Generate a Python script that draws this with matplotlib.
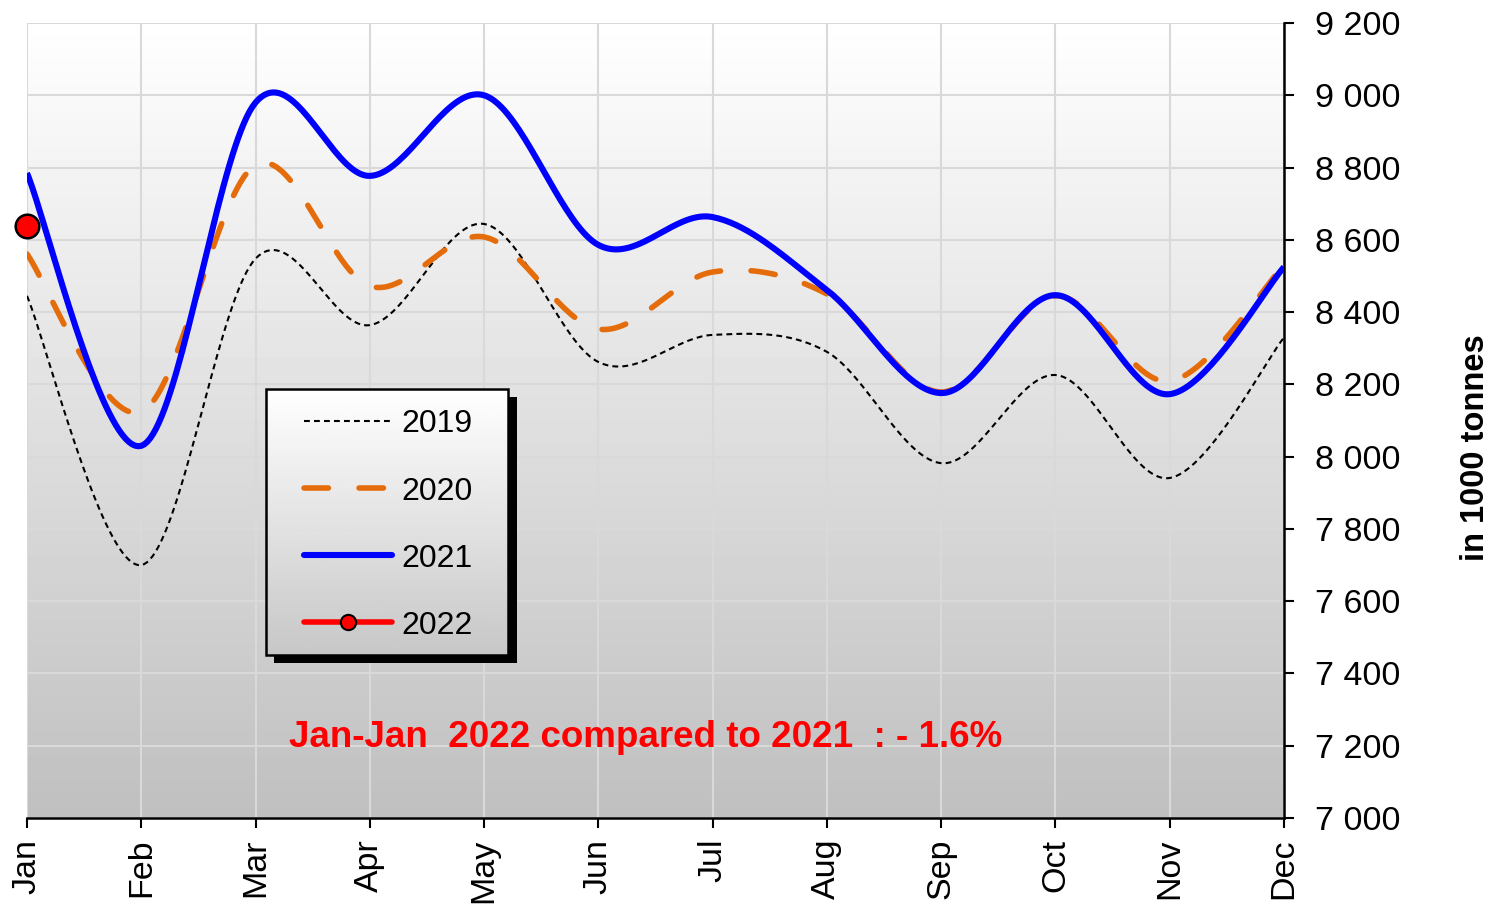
import numpy as np
import matplotlib.pyplot as plt
from matplotlib.patches import Rectangle
from matplotlib.lines import Line2D
from matplotlib.transforms import ScaledTranslation
from matplotlib.ticker import FuncFormatter

plt.rcParams['font.family'] = ['Liberation Sans', 'DejaVu Sans']

months = ['Jan', 'Feb', 'Mar', 'Apr', 'May', 'Jun',
          'Jul', 'Aug', 'Sep', 'Oct', 'Nov', 'Dec']
v2019 = [8445, 7700, 8548, 8364, 8644, 8262, 8337, 8290, 7982, 8226, 7941, 8330]
v2020 = [8561, 8124, 8807, 8472, 8608, 8353, 8511, 8450, 8179, 8445, 8209, 8530]
v2021 = [8785, 8030, 8980, 8777, 9000, 8586, 8663, 8461, 8176, 8447, 8173, 8525]
v2022 = [8638]
yticks = list(range(7000, 9201, 200))
note = 'Jan-Jan  2022 compared to 2021  : - 1.6%'


def smooth(y, n=40):
    # Excel style smoothed line: Bezier segments with Catmull-Rom control points
    pts = np.column_stack([np.arange(len(y), dtype=float), np.asarray(y, float)])
    ext = np.vstack([pts[0], pts, pts[-1]])
    t = np.linspace(0, 1, n)[:, None]
    segs = []
    for i in range(len(pts) - 1):
        p0, p1, p2, p3 = ext[i], ext[i + 1], ext[i + 2], ext[i + 3]
        c1 = p1 + (p2 - p0) / 6
        c2 = p2 - (p3 - p1) / 6
        segs.append((1 - t) ** 3 * p1 + 3 * (1 - t) ** 2 * t * c1
                    + 3 * (1 - t) * t ** 2 * c2 + t ** 3 * p2)
    seg = np.vstack(segs)
    return seg[:, 0], seg[:, 1]


fig = plt.figure(figsize=(14.99, 9.07), dpi=100)
ax = fig.add_axes([0.018, 0.0981, 0.8386, 0.8765])
ax.set_facecolor('none')

# gradient background of the plot area
grad = np.linspace(1.0, 0.75, 256)[:, None]
ax.imshow(grad, cmap='gray', vmin=0, vmax=1, aspect='auto',
          extent=(0, 11, 7000, 9200), zorder=0)

orange = '#E46C0A'
x19, y19 = smooth(v2019)
x20, y20 = smooth(v2020)
x21, y21 = smooth(v2021)
ax.plot(x19, y19, color='black', lw=1.5, dashes=(2.8, 2.0), zorder=3)
ax.plot(x20, y20, color=orange, lw=4, dashes=(4.4, 5.5),
        dash_capstyle='round', zorder=3)
ax.plot(x21, y21, color='#0000FF', lw=4.4, zorder=3, solid_capstyle='butt')
ax.plot(range(len(v2022)), v2022, color='red', lw=4, marker='o',
        markersize=17, markerfacecolor='red', markeredgecolor='black',
        markeredgewidth=1.8, zorder=4, clip_on=False)

ax.set_xlim(0, 11)
ax.set_ylim(7000, 9200)
ax.set_xticks(range(12))
ax.set_xticklabels(months, rotation=90, fontsize=24.5)
ax.set_yticks(yticks)
ax.yaxis.set_major_formatter(FuncFormatter(lambda v, p: f'{int(v):,}'.replace(',', ' ')))
ax.yaxis.tick_right()
ax.tick_params(axis='y', labelsize=24.5, length=7, width=1.5, pad=15.5)
ax.tick_params(axis='x', length=7, width=1.5, pad=8)
ax.grid(True, color='#d9d9d9', lw=1.5, zorder=1)
ax.set_axisbelow(True)
for s in ['top', 'left']:
    ax.spines[s].set_visible(False)
for s in ['bottom', 'right']:
    ax.spines[s].set_linewidth(1.8)

fig.text(0.984, 0.507, 'in 1000 tonnes', rotation=90, ha='center', va='center',
         fontsize=23.5, fontweight='bold')

# legend box with hard black shadow and gradient fill
bx, by, bw, bh = 0.190, 0.205, 0.193, 0.335
shadow_tr = ax.transAxes + ScaledTranslation(6 / 72, -6 / 72, fig.dpi_scale_trans)
ax.add_patch(Rectangle((bx, by), bw, bh, transform=shadow_tr, facecolor='black',
                       edgecolor='none', zorder=5, clip_on=False))
lg_grad = np.linspace(1.0, 0.78, 256)[:, None]
im = ax.imshow(lg_grad, cmap='gray', vmin=0, vmax=1, aspect='auto',
               extent=(bx, bx + bw, by, by + bh), transform=ax.transAxes, zorder=5.1)
ax.add_patch(Rectangle((bx, by), bw, bh, transform=ax.transAxes, facecolor='none',
                       edgecolor='black', lw=1.8, zorder=5.2, clip_on=False))
handles = [
    Line2D([], [], color='black', lw=1.5, dashes=(2.8, 2.0)),
    Line2D([], [], color=orange, lw=4, dashes=(4.4, 5.5), dash_capstyle='round'),
    Line2D([], [], color='#0000FF', lw=4.4, solid_capstyle='round'),
    Line2D([], [], color='red', lw=4, solid_capstyle='round', marker='o', markersize=11,
           markerfacecolor='red', markeredgecolor='black', markeredgewidth=1.5),
]
leg = ax.legend(handles, ['2019', '2020', '2021', '2022'], loc='center',
                bbox_to_anchor=(bx + bw / 2 + 0.001, by + bh / 2 - 0.004), frameon=False,
                fontsize=23, handlelength=2.75, handletextpad=0.28,
                labelspacing=1.16)
leg.set_zorder(6)

ax.set_xlim(0, 11)
ax.set_ylim(7000, 9200)

ax.text(0.492, 0.101, note, transform=ax.transAxes, ha='center', va='center',
        color='red', fontsize=26.5, fontweight='bold', zorder=7)

fig.savefig('out.png', dpi=100)
